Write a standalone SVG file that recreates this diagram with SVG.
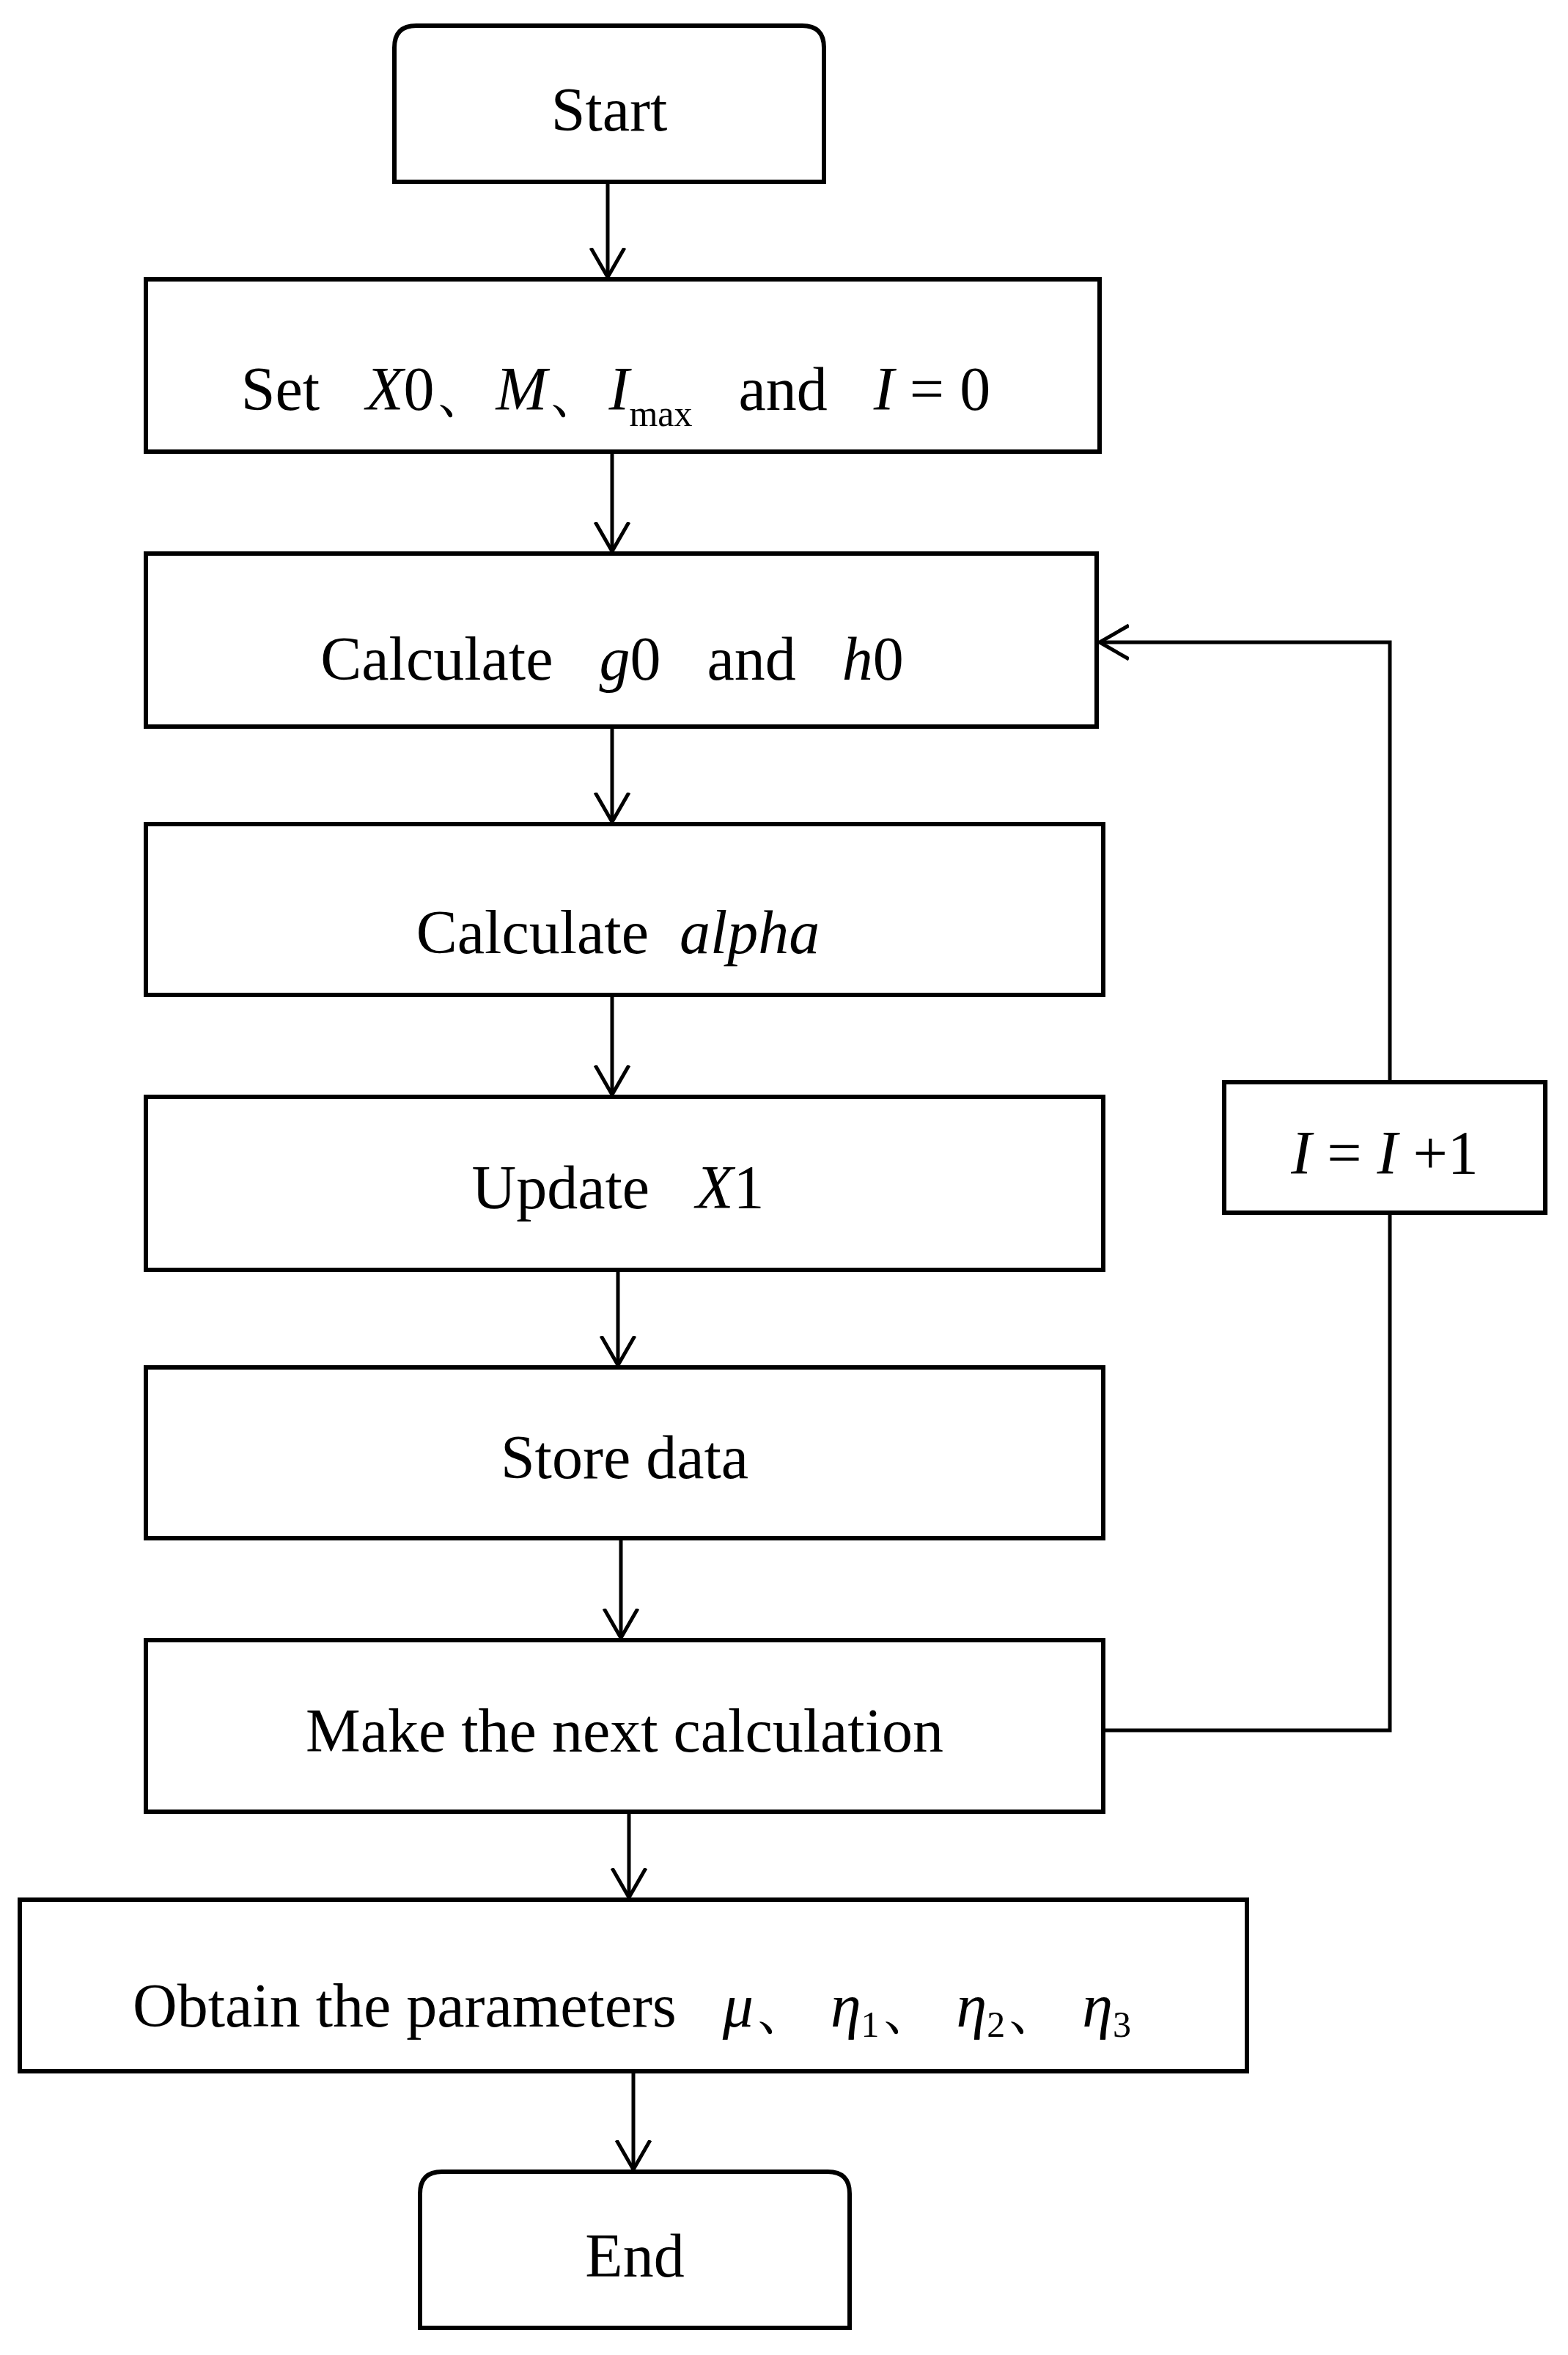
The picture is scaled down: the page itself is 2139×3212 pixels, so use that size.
<svg xmlns="http://www.w3.org/2000/svg" width="2139" height="3212" viewBox="0 0 2139 3212" xml:space="preserve">
<style>
.b{fill:#fff;stroke:#000;stroke-width:6}
.c{fill:none;stroke:#000;stroke-width:5}
text{font-family:"Liberation Serif","Times New Roman",serif;font-size:84px;fill:#000;text-anchor:middle;white-space:pre}
.i{font-style:italic}
.s{font-size:50px}
</style>
<defs>
<marker id="a" markerUnits="userSpaceOnUse" markerWidth="60" markerHeight="60" refX="40" refY="25" orient="auto" viewBox="0 0 60 60">
<path d="M0,2 L40,25 L0,48" fill="none" stroke="#000" stroke-width="5"/>
</marker>
</defs>
<rect width="2139" height="3212" fill="#fff"/>
<g id="connectors" class="c">
<line x1="829" y1="248" x2="829" y2="378" marker-end="url(#a)"/>
<line x1="835" y1="616" x2="835" y2="752" marker-end="url(#a)"/>
<line x1="835" y1="991" x2="835" y2="1121" marker-end="url(#a)"/>
<line x1="835" y1="1357" x2="835" y2="1493" marker-end="url(#a)"/>
<line x1="843" y1="1732" x2="843" y2="1862" marker-end="url(#a)"/>
<line x1="847" y1="2098" x2="847" y2="2234" marker-end="url(#a)"/>
<line x1="858" y1="2471" x2="858" y2="2588" marker-end="url(#a)"/>
<line x1="864" y1="2825" x2="864" y2="2959" marker-end="url(#a)"/>
<polyline points="1505,2360 1896,2360 1896,1654"/>
<polyline points="1896,1476 1896,876 1500,876" marker-end="url(#a)"/>
</g>
<g id="start"><path class="b" d="M568,35 H1094 Q1124,35 1124,65 V248 H538 V65 Q538,35 568,35 Z"/><text x="831" y="178">Start</text></g>
<g id="set"><rect class="b" x="199" y="381" width="1301" height="235"/>
<text x="840" y="559">Set   <tspan class="i">X</tspan>0、<tspan class="i">M</tspan>、<tspan class="i">I</tspan><tspan class="s" dy="22">max</tspan><tspan dy="-22">   and   </tspan><tspan class="i">I</tspan> = 0</text></g>
<g id="calc1"><rect class="b" x="199" y="755" width="1297" height="236"/>
<text x="835" y="927">Calculate   <tspan class="i">g</tspan>0   and   <tspan class="i">h</tspan>0</text></g>
<g id="alpha"><rect class="b" x="199" y="1124" width="1306" height="233"/>
<text x="843" y="1300">Calculate  <tspan class="i">alpha</tspan></text></g>
<g id="update"><rect class="b" x="199" y="1496" width="1306" height="236"/>
<text x="843" y="1648">Update   <tspan class="i">X</tspan>1</text></g>
<g id="store"><rect class="b" x="199" y="1865" width="1306" height="233"/>
<text x="852" y="2016">Store data</text></g>
<g id="next"><rect class="b" x="199" y="2237" width="1306" height="234"/>
<text x="852" y="2389">Make the next calculation</text></g>
<g id="obtain"><rect class="b" x="27" y="2591" width="1674" height="234"/>
<text x="862" y="2764">Obtain the parameters   <tspan class="i">μ</tspan>、 <tspan class="i">η</tspan><tspan class="s" dy="14">1</tspan><tspan dy="-14">、 </tspan><tspan class="i">η</tspan><tspan class="s" dy="14">2</tspan><tspan dy="-14">、 </tspan><tspan class="i">η</tspan><tspan class="s" dy="14">3</tspan></text></g>
<g id="end"><path class="b" d="M603,2962 H1129 Q1159,2962 1159,2992 V3175 H573 V2992 Q573,2962 603,2962 Z"/><text x="866" y="3105">End</text></g>
<g id="incr"><rect class="b" x="1670" y="1476" width="438" height="178"/>
<text x="1889" y="1601"><tspan class="i">I</tspan> = <tspan class="i">I</tspan> +1</text></g>
</svg>
